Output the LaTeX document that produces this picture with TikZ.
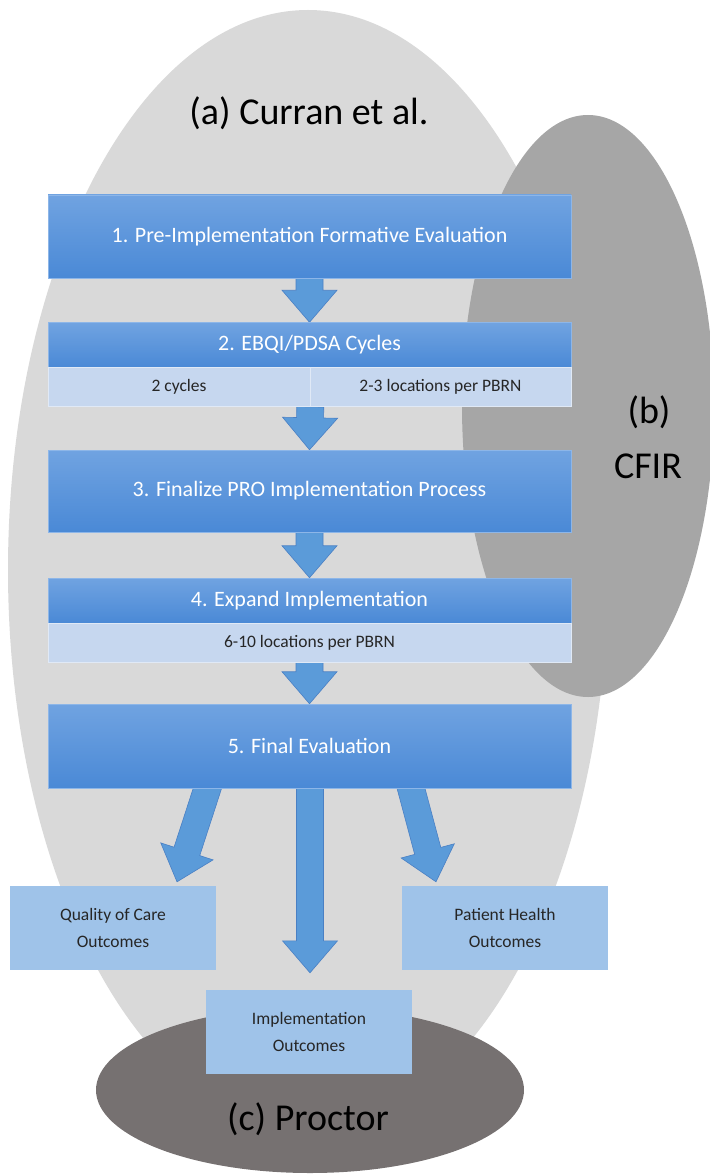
\documentclass[tikz,border=0pt]{standalone}
\usepackage{fontspec}
\setmainfont{Carlito}
\usetikzlibrary{calc}
\pgfdeclarelayer{back}
\pgfdeclarelayer{mid}
\pgfsetlayers{back,mid,main}
\definecolor{ellA}{HTML}{D9D9D9}
\definecolor{ellB}{HTML}{A6A6A6}
\definecolor{ellC}{HTML}{767171}
\definecolor{boxTop}{HTML}{70A3E1}
\definecolor{boxBot}{HTML}{4A89D6}
\definecolor{boxLine}{HTML}{8DB6E8}
\definecolor{subFill}{HTML}{C6D7EF}
\definecolor{outFill}{HTML}{9FC3E9}
\definecolor{arrFill}{HTML}{5B9BD9}
\definecolor{arrLine}{HTML}{4A80C4}
\newcommand\blockarrow[3]{%
  \coordinate (#3base) at ($(#2)!32pt!(#1)$);
  \filldraw[arrowstyle] ($(#1)!13.5pt!90:(#2)$) -- ($(#3base)!13.5pt!90:(#2)$)
    -- ($(#3base)!27.5pt!90:(#2)$) -- (#2) -- ($(#3base)!27.5pt!-90:(#2)$)
    -- ($(#3base)!13.5pt!-90:(#2)$) -- ($(#1)!13.5pt!-90:(#2)$) -- cycle;}
\begin{document}
\begin{tikzpicture}[x=1pt,y=-1pt,
  stage/.style={rectangle, minimum width=523pt, inner sep=0pt, top color=boxTop, bottom color=boxBot,
    draw=boxLine, line width=0.5pt, text=white, font=\fontsize{22}{26}\selectfont},
  subrow/.style={rectangle, minimum height=39pt, inner sep=0pt, fill=subFill, draw=white!45!subFill,
    line width=0.6pt, text=black!85, font=\fontsize{17.5}{21}\selectfont},
  outcome/.style={rectangle, minimum width=206pt, minimum height=84pt, inner sep=0pt, fill=outFill,
    align=center, text=black!85, font=\fontsize{17.5}{27}\selectfont},
  title/.style={inner sep=0pt, text=black, font=\fontsize{38}{44}\selectfont},
  arrowstyle/.style={fill=arrFill, draw=arrLine, line width=0.6pt, line join=miter}]
\useasboundingbox (0,0) rectangle (709,1174);

% background ellipses
\begin{pgfonlayer}{back}
\fill[ellA] (308,570) ellipse [x radius=300, y radius=560];
\fill[ellB] (588,406) ellipse [x radius=126, y radius=291];
\fill[ellC] (310,1090) ellipse [x radius=214, y radius=83];
\end{pgfonlayer}

% titles
\node[title, anchor=base] (ta) at (309,125) {(a) Curran et al.};
\node[title, anchor=base] (tb1) at (649,423) {(b)};
\node[title, anchor=base] (tb2) at (648,478) {CFIR};
\node[title, anchor=base] (tc) at (308,1130) {(c) Proctor};

% stages
\node[stage, minimum height=83pt] (s1) at (309.5,236.5) {1. Pre-Implementation Formative Evaluation};
\node[stage, minimum height=45pt] (s2) at (309.5,345) {2. EBQI/PDSA Cycles};
\node[subrow, minimum width=262pt] (s2a) at (179,387) {2 cycles};
\node[subrow, minimum width=261pt] (s2b) at (440.5,387) {2-3 locations per PBRN};
\node[stage, minimum height=82pt] (s3) at (309.5,491) {3. Finalize PRO Implementation Process};
\node[stage, minimum height=45pt] (s4) at (309.5,600.5) {4. Expand Implementation};
\node[subrow, minimum width=523pt] (s4a) at (309.5,642.5) {6-10 locations per PBRN};
\node[stage, minimum height=84pt] (s5) at (309.5,746) {5. Final Evaluation};

% outcomes
\node[outcome] (q) at (113,928) {Quality of Care\\Outcomes};
\node[outcome] (p) at (505,928) {Patient Health\\Outcomes};
\node[outcome] (im) at (309,1032) {Implementation\\Outcomes};

% connectors
\coordinate (qs) at ($(s5.south)+(-98.8,-10)$);
\coordinate (qt) at ($(q.north)+(64,-4)$);
\coordinate (ps) at ($(s5.south)+(98.8,-10)$);
\coordinate (pt) at ($(p.north)+(-69,-4)$);
\coordinate (is) at ($(s5.south)+(0.5,-5)$);
\coordinate (it) at ($(im.north)+(1,-17)$);
\begin{pgfonlayer}{mid}
\blockarrow{s1.south}{s2.north}{a1}
\blockarrow{s2a.south east}{s3.north}{a2}
\blockarrow{s3.south}{s4.north}{a3}
\blockarrow{s4a.south}{s5.north}{a4}
\blockarrow{qs}{qt}{a5}
\blockarrow{is}{it}{a6}
\blockarrow{ps}{pt}{a7}
\end{pgfonlayer}
\end{tikzpicture}
\end{document}
